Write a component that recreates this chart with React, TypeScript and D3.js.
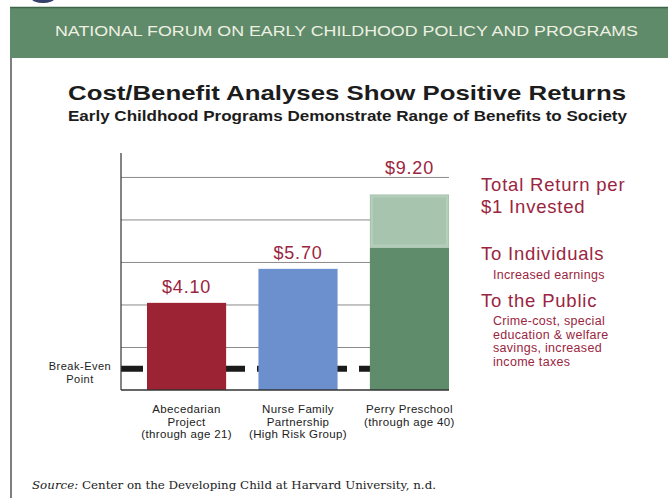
import React from "react";
import * as d3 from "d3";

const headerText = "NATIONAL FORUM ON EARLY CHILDHOOD POLICY AND PROGRAMS";
const titleText = "Cost/Benefit Analyses Show Positive Returns";
const subtitleText = "Early Childhood Programs Demonstrate Range of Benefits to Society";
const programs = ["Abecedarian Project", "Nurse Family Partnership", "Perry Preschool"];
const programLabelLines = [
  ["Abecedarian", "Project", "(through age 21)"],
  ["Nurse Family", "Partnership", "(High Risk Group)"],
  ["Perry Preschool", "(through age 40)"],
];
const totalReturn = [4.1, 5.7, 9.2];
const valueLabels = ["$4.10", "$5.70", "$9.20"];
// Perry Preschool split: public (bottom) and individuals (top)
const perryToPublic = 6.7;
const perryToIndividuals = 2.5;
const breakEven = 1;
const gridTicks = [2, 4, 6, 8, 10];
const yMax = 11.15;
const breakEvenLabel = ["Break-Even", "Point"];
const legendTitle = ["Total Return per", "$1 Invested"];
const legendIndividuals = "To Individuals";
const legendIndividualsNote = ["Increased earnings"];
const legendPublic = "To the Public";
const legendPublicNote = ["Crime-cost, special", "education & welfare", "savings, increased", "income taxes"];
const sourceLabel = "Source:";
const sourceText = " Center on the Developing Child at Harvard University, n.d.";

const SANS = "'Liberation Sans', Arial, Helvetica, sans-serif";
const SERIF = "'DejaVu Serif', 'Liberation Serif', serif";
const MAROON = "#9a2540";
const barColors = ["#9c2333", "#6b90cd", "#5f8c6b"];
const lightGreen = "#a6c4ae";

export default function App() {
  const x = d3.scaleBand<string>().domain(programs).range([147, 449]).paddingInner(0.29).paddingOuter(0);
  const y = d3.scaleLinear().domain([0, yMax]).range([390, 153]);
  const axisLeft = 121;
  const axisRight = 449;
  const bw = x.bandwidth();

  // value label sits 10px above bar, but is lifted above a gridline it would collide with
  const labelY = (v: number) => {
    let ly = y(v) - 10;
    for (const t of gridTicks) {
      const gy = y(t);
      if (gy > ly - 14 && gy < ly + 2) ly = gy - 3;
    }
    return ly;
  };

  return (
    <svg width={668} height={498} style={{ position: "absolute", left: 0, top: 0, background: "#fff" }}>
      {/* logo fragment */}
      <ellipse cx={43} cy={-1} rx={11} ry={4} fill="#34406a" />
      {/* header band */}
      <rect x={10} y={7} width={658} height={51} fill="#5f8b6a" />
      <line x1={10} x2={668} y1={7.5} y2={7.5} stroke="#3e654a" strokeWidth={1.5} />
      <text x={55} y={36} fill="#eef0e2" fontFamily={SANS} fontSize={14} textLength={583} lengthAdjust="spacingAndGlyphs">
        {headerText}
      </text>
      {/* left border */}
      <line x1={11} x2={11} y1={58} y2={498} stroke="#555" strokeWidth={1.5} />

      {/* titles */}
      <text x={68} y={100} fill="#1c1c1c" fontFamily={SANS} fontWeight="bold" fontSize={21} textLength={558} lengthAdjust="spacingAndGlyphs">
        {titleText}
      </text>
      <text x={68} y={121} fill="#1c1c1c" fontFamily={SANS} fontWeight="bold" fontSize={14} textLength={559} lengthAdjust="spacingAndGlyphs">
        {subtitleText}
      </text>

      {/* gridlines */}
      {gridTicks.map((t) => (
        <line key={t} x1={axisLeft} x2={axisRight} y1={y(t)} y2={y(t)} stroke="#8a8a8a" strokeWidth={1} />
      ))}

      {/* break-even dashed line */}
      <line
        x1={axisLeft}
        x2={axisRight}
        y1={y(breakEven)}
        y2={y(breakEven)}
        stroke="#1a1a1a"
        strokeWidth={6}
        strokeDasharray="22 12"
      />

      {/* bars */}
      {programs.map((p, i) => {
        if (i === 2) {
          return (
            <g key={p}>
              <rect x={x(p)} y={y(perryToPublic)} width={bw} height={y(0) - y(perryToPublic)} fill={barColors[2]} />
              <rect
                x={x(p)}
                y={y(perryToPublic + perryToIndividuals)}
                width={bw}
                height={y(perryToPublic) - y(perryToPublic + perryToIndividuals)}
                fill={lightGreen}
              />
              <rect
                x={(x(p) as number) + 2}
                y={y(perryToPublic + perryToIndividuals) + 2}
                width={bw - 4}
                height={y(perryToPublic) - y(perryToPublic + perryToIndividuals) - 4}
                fill="none"
                stroke="#b6cfbd"
                strokeWidth={2}
              />
            </g>
          );
        }
        return <rect key={p} x={x(p)} y={y(totalReturn[i])} width={bw} height={y(0) - y(totalReturn[i])} fill={barColors[i]} />;
      })}

      {/* axes */}
      <line x1={axisLeft} x2={axisLeft} y1={y(yMax)} y2={y(0)} stroke="#333" strokeWidth={1.2} />
      <line x1={axisLeft} x2={axisRight} y1={y(0)} y2={y(0)} stroke="#333" strokeWidth={1.5} />

      {/* value labels */}
      {programs.map((p, i) => (
        <text
          key={p}
          x={(x(p) as number) + bw / 2}
          y={labelY(totalReturn[i])}
          textAnchor="middle"
          fill={MAROON}
          fontFamily={SANS}
          fontSize={18}
          letterSpacing={0.8}
        >
          {valueLabels[i]}
        </text>
      ))}

      {/* category labels */}
      {programs.map((p, i) =>
        programLabelLines[i].map((ln, j) => (
          <text
            key={p + j}
            x={(x(p) as number) + bw / 2}
            y={413 + j * 12.5}
            textAnchor="middle"
            fill="#222"
            fontFamily={SANS}
            fontSize={11.5}
            letterSpacing={0.35}
          >
            {ln}
          </text>
        ))
      )}

      {/* break-even label */}
      {breakEvenLabel.map((ln, j) => (
        <text
          key={j}
          x={80}
          y={y(breakEven) + 1.5 + j * 12.5}
          textAnchor="middle"
          fill="#222"
          fontFamily={SANS}
          fontSize={11}
          letterSpacing={0.5}
        >
          {ln}
        </text>
      ))}

      {/* legend */}
      <g fontFamily={SANS} fill={MAROON}>
        {legendTitle.map((ln, j) => (
          <text key={j} x={481} y={191 + j * 22} fontSize={18.5} letterSpacing={0.8}>
            {ln}
          </text>
        ))}
        <text x={481} y={259.5} fontSize={18.5} letterSpacing={0.8}>
          {legendIndividuals}
        </text>
        {legendIndividualsNote.map((ln, j) => (
          <text key={j} x={493} y={278.5} fontSize={12.5} letterSpacing={0.3}>
            {ln}
          </text>
        ))}
        <text x={481} y={307} fontSize={18.5} letterSpacing={0.8}>
          {legendPublic}
        </text>
        {legendPublicNote.map((ln, j) => (
          <text key={j} x={493} y={325 + j * 13.7} fontSize={12.5} letterSpacing={0.3}>
            {ln}
          </text>
        ))}
      </g>

      {/* source */}
      <text x={32} y={489} fill="#222" fontFamily={SERIF} fontSize={11} textLength={404} lengthAdjust="spacingAndGlyphs">
        <tspan fontStyle="italic">{sourceLabel}</tspan>
        {sourceText}
      </text>
    </svg>
  );
}
